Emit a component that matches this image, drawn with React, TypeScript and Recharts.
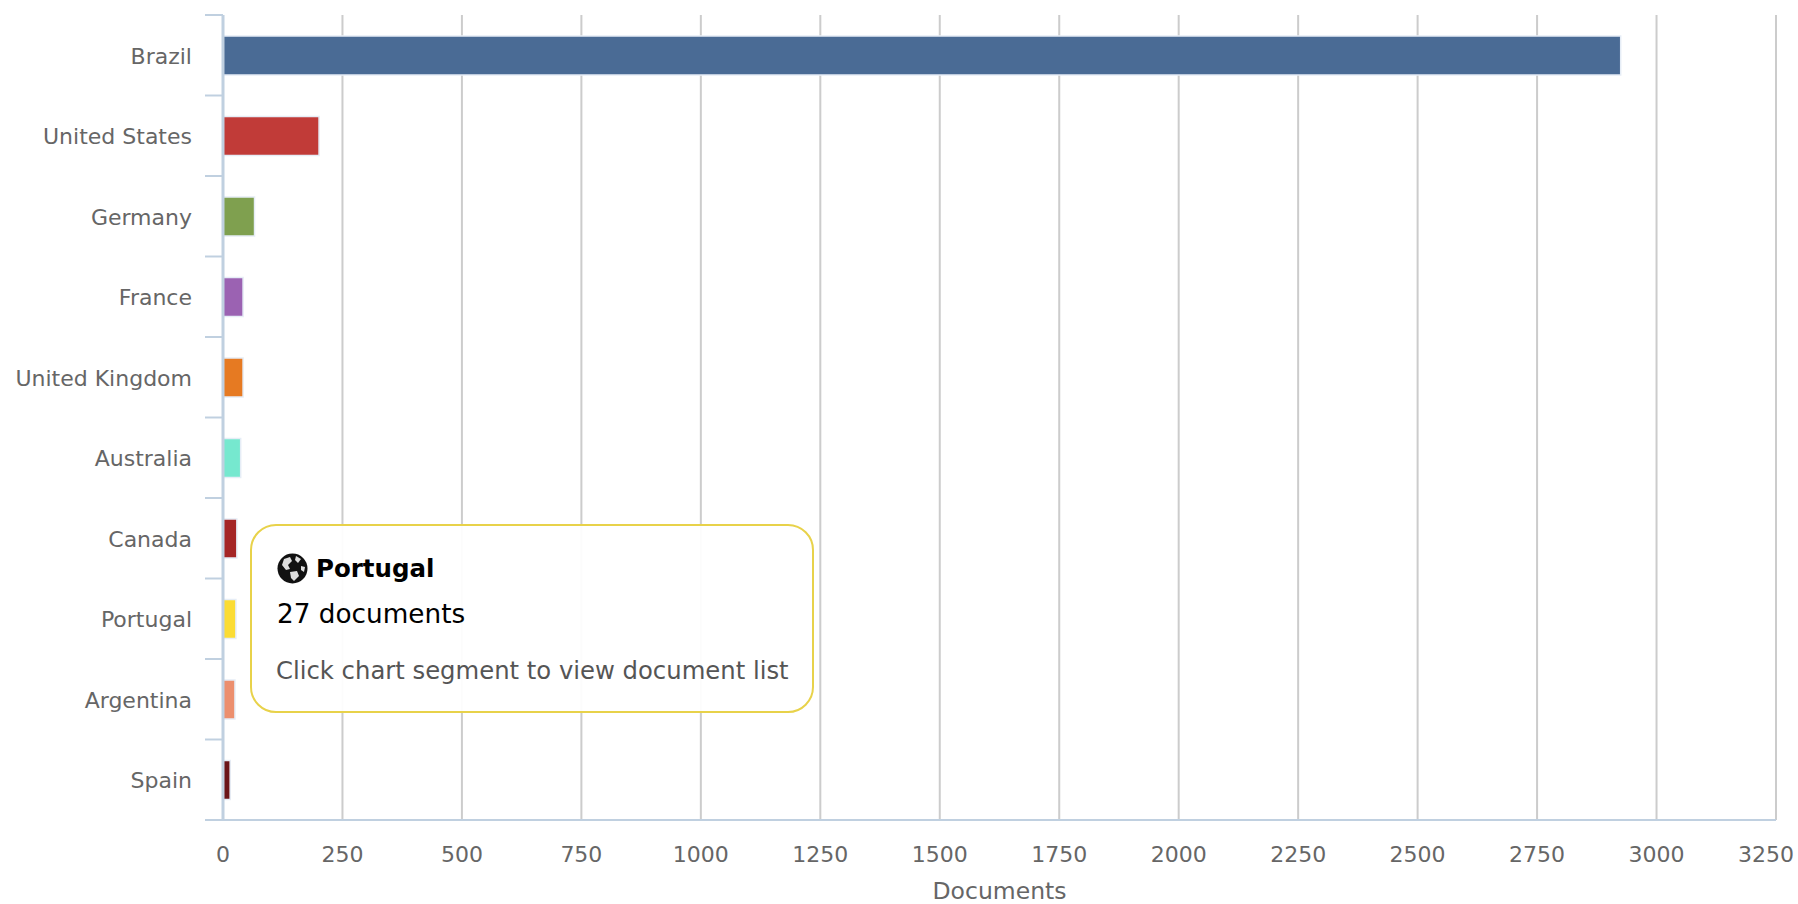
import React from 'react';
import { BarChart, Bar, XAxis, YAxis, CartesianGrid, Tooltip, Cell } from 'recharts';

const categories = ['Brazil', 'United States', 'Germany', 'France', 'United Kingdom', 'Australia', 'Canada', 'Portugal', 'Argentina', 'Spain'];
const documents = [2925, 201, 66, 42, 42, 37, 29, 27, 25, 15];
const barColors = ['#4a6b95', '#c13b38', '#7fa04f', '#9b62b2', '#e67a22', '#76e8cf', '#a52626', '#fbdc34', '#ec8f6e', '#6b1519'];
const xTicks = [0, 250, 500, 750, 1000, 1250, 1500, 1750, 2000, 2250, 2500, 2750, 3000, 3250];

const data = categories.map((name, i) => ({ name, documents: documents[i] }));

const CHART_WIDTH = 1798;
const CHART_HEIGHT = 904;
const margin = { top: 15, right: 22, left: 0, bottom: 0 };
const X_AXIS_HEIGHT = 84;
const Y_AXIS_WIDTH = 223;
const bandHeight = (CHART_HEIGHT - margin.top - X_AXIS_HEIGHT) / categories.length;

const AXIS_COLOR = '#c0d0e0';
const FONT = '"DejaVu Sans", sans-serif';

// ticks sit between the categories, not on them
function CategoryTick({ y, payload, index }: any) {
  const axisX = Y_AXIS_WIDTH;
  return (
    <g>
      <line x1={axisX - 18} x2={axisX} y1={y - bandHeight / 2} y2={y - bandHeight / 2} stroke={AXIS_COLOR} strokeWidth={2} />
      {index === categories.length - 1 && (
        <line x1={axisX - 18} x2={axisX} y1={y + bandHeight / 2} y2={y + bandHeight / 2} stroke={AXIS_COLOR} strokeWidth={2} />
      )}
      <text x={192} y={y + 2.5} textAnchor="end" dominantBaseline="middle" fill="#666" fontSize={22} fontFamily={FONT}>
        {payload.value}
      </text>
    </g>
  );
}

// last label is pulled in so it stays inside the chart
function ValueTick({ x, y, payload }: any) {
  const isLast = payload.value === xTicks[xTicks.length - 1];
  return (
    <text x={isLast ? x - 10 : x} y={y} dy="0.71em" textAnchor="middle" fill="#666" fontSize={22} fontFamily={FONT}>
      {payload.value}
    </text>
  );
}

function Globe() {
  return (
    <svg width={31} height={31} viewBox="0 0 31 31" style={{ display: 'block' }}>
      <circle cx={15.5} cy={15.5} r={15} fill="#111" />
      <path d="M7 6 L13 4 L15 8 L11 12 L13 16 L9 17 L5 12 Z" fill="#ddd" />
      <path d="M13 19 L20 18 L22 23 L17 28 L14 25 Z" fill="#ddd" />
      <path d="M19 3 L24 6 L21 10 L18 7 Z" fill="#ddd" />
      <path d="M24 13 L28 14 L27 19 L24 17 Z" fill="#ddd" />
    </svg>
  );
}

function DocumentTooltip({ active, payload }: any) {
  if (!active || !payload || !payload.length) return null;
  const row = payload[0];
  return (
    <div
      style={{
        boxSizing: 'border-box',
        width: 564,
        height: 189,
        border: '2px solid #e8d24a',
        borderRadius: 26,
        background: 'rgba(255,255,255,0.94)',
        position: 'relative',
        fontFamily: FONT,
      }}
    >
      <div style={{ position: 'absolute', left: 25, top: 27 }}>
        <Globe />
      </div>
      <div style={{ position: 'absolute', left: 64, top: 27, fontSize: 24.5, lineHeight: '32px', fontWeight: 700, color: '#000', whiteSpace: 'nowrap' }}>
        {row.payload.name}
      </div>
      <div style={{ position: 'absolute', left: 25, top: 72, fontSize: 26.3, lineHeight: '32px', color: '#000', whiteSpace: 'nowrap' }}>
        {row.value} documents
      </div>
      <div style={{ position: 'absolute', left: 24, top: 130, fontSize: 24.3, lineHeight: '30px', color: '#555', whiteSpace: 'nowrap' }}>
        Click chart segment to view document list
      </div>
    </div>
  );
}

export default function App() {
  return (
    <div style={{ position: 'absolute', left: 0, top: 0, width: CHART_WIDTH, height: CHART_HEIGHT, background: '#fff' }}>
      <BarChart width={CHART_WIDTH} height={CHART_HEIGHT} data={data} layout="vertical" margin={margin}>
        <CartesianGrid horizontal={false} stroke="#cccccc" strokeWidth={2} />
        <XAxis
          type="number"
          domain={[0, 3250]}
          ticks={xTicks}
          interval={0}
          height={X_AXIS_HEIGHT}
          stroke={AXIS_COLOR}
          strokeWidth={2}
          tickLine={false}
          tickMargin={20}
          tick={<ValueTick />}
          label={{ value: 'Documents', position: 'insideBottom', offset: 5, fill: '#666', fontSize: 23.5, fontFamily: FONT }}
        />
        <YAxis
          type="category"
          dataKey="name"
          width={Y_AXIS_WIDTH}
          interval={0}
          stroke={AXIS_COLOR}
          strokeWidth={3}
          tickLine={false}
          tick={<CategoryTick />}
        />
        <Tooltip
          active
          defaultIndex={7}
          position={{ x: 250, y: 524 }}
          cursor={false}
          isAnimationActive={false}
          content={<DocumentTooltip />}
        />
        <Bar dataKey="documents" barSize={39} isAnimationActive={false} stroke="#e6edf6" strokeWidth={1.5}>
          {data.map((entry, index) => (
            <Cell key={`cell-${index}`} fill={barColors[index]} />
          ))}
        </Bar>
      </BarChart>
    </div>
  );
}
